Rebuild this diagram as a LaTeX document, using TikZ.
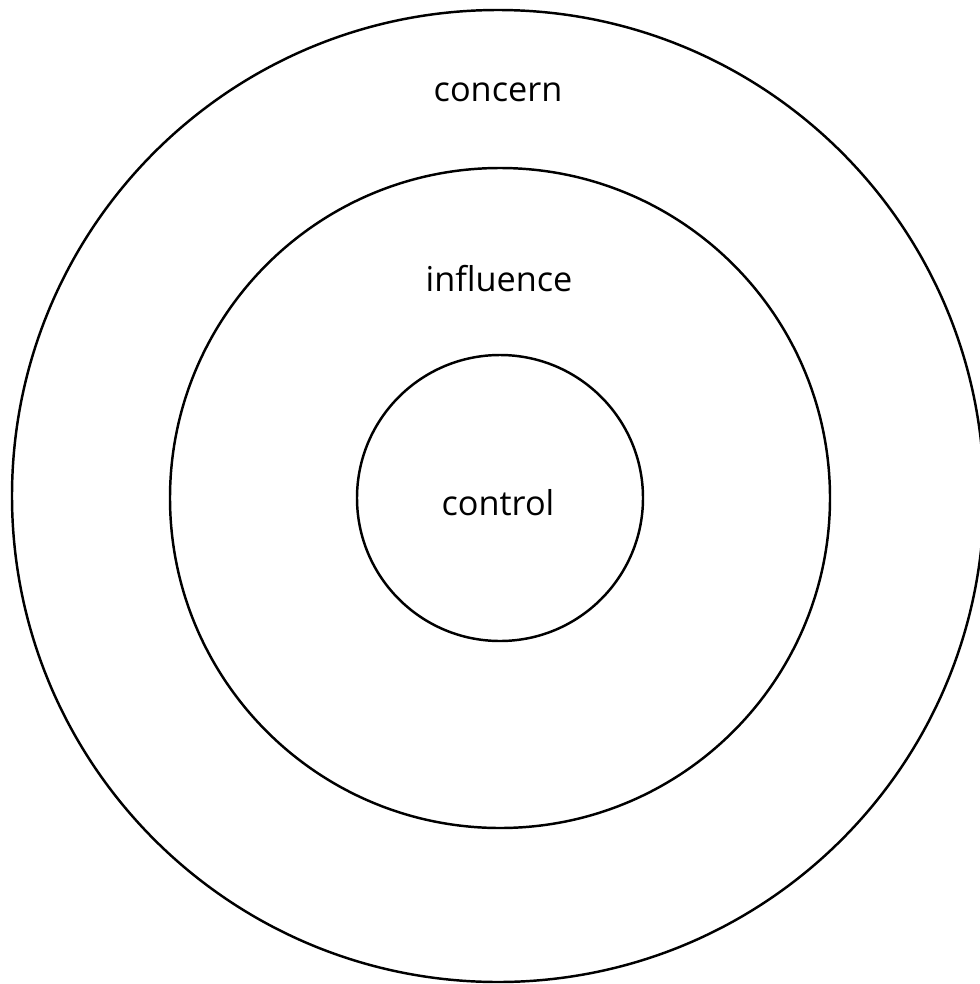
\documentclass[tikz,border=0pt]{standalone}
\usepackage{fontspec}
\setmainfont{Open Sans}
\usepackage{tikz}

\begin{document}
\begin{tikzpicture}[x=0.02cm,y=-0.02cm]
			\tikzstyle{ring}=[circle,draw,line width=1.4pt,inner sep=0pt]
			\tikzstyle{lbl}=[font=\fontsize{19.5}{23}\selectfont,inner sep=0pt]

			\useasboundingbox (0,0) rectangle (980,984);
			\clip (0,0) rectangle (980,984);

			\node (concern) [ring, minimum size=972*0.02cm] at (498,496) {};
			\node (influence) [ring, minimum size=660*0.02cm] at (500,498) {};
			\node (control) [ring, minimum size=286*0.02cm] at (500,498) {};

			\node (concernlbl) [lbl] at (498,92) {concern};
			\node (influencelbl) [lbl] at (499,279) {influence};
			\node (controllbl) [lbl] at (498,503) {control};
		\end{tikzpicture}
\end{document}
